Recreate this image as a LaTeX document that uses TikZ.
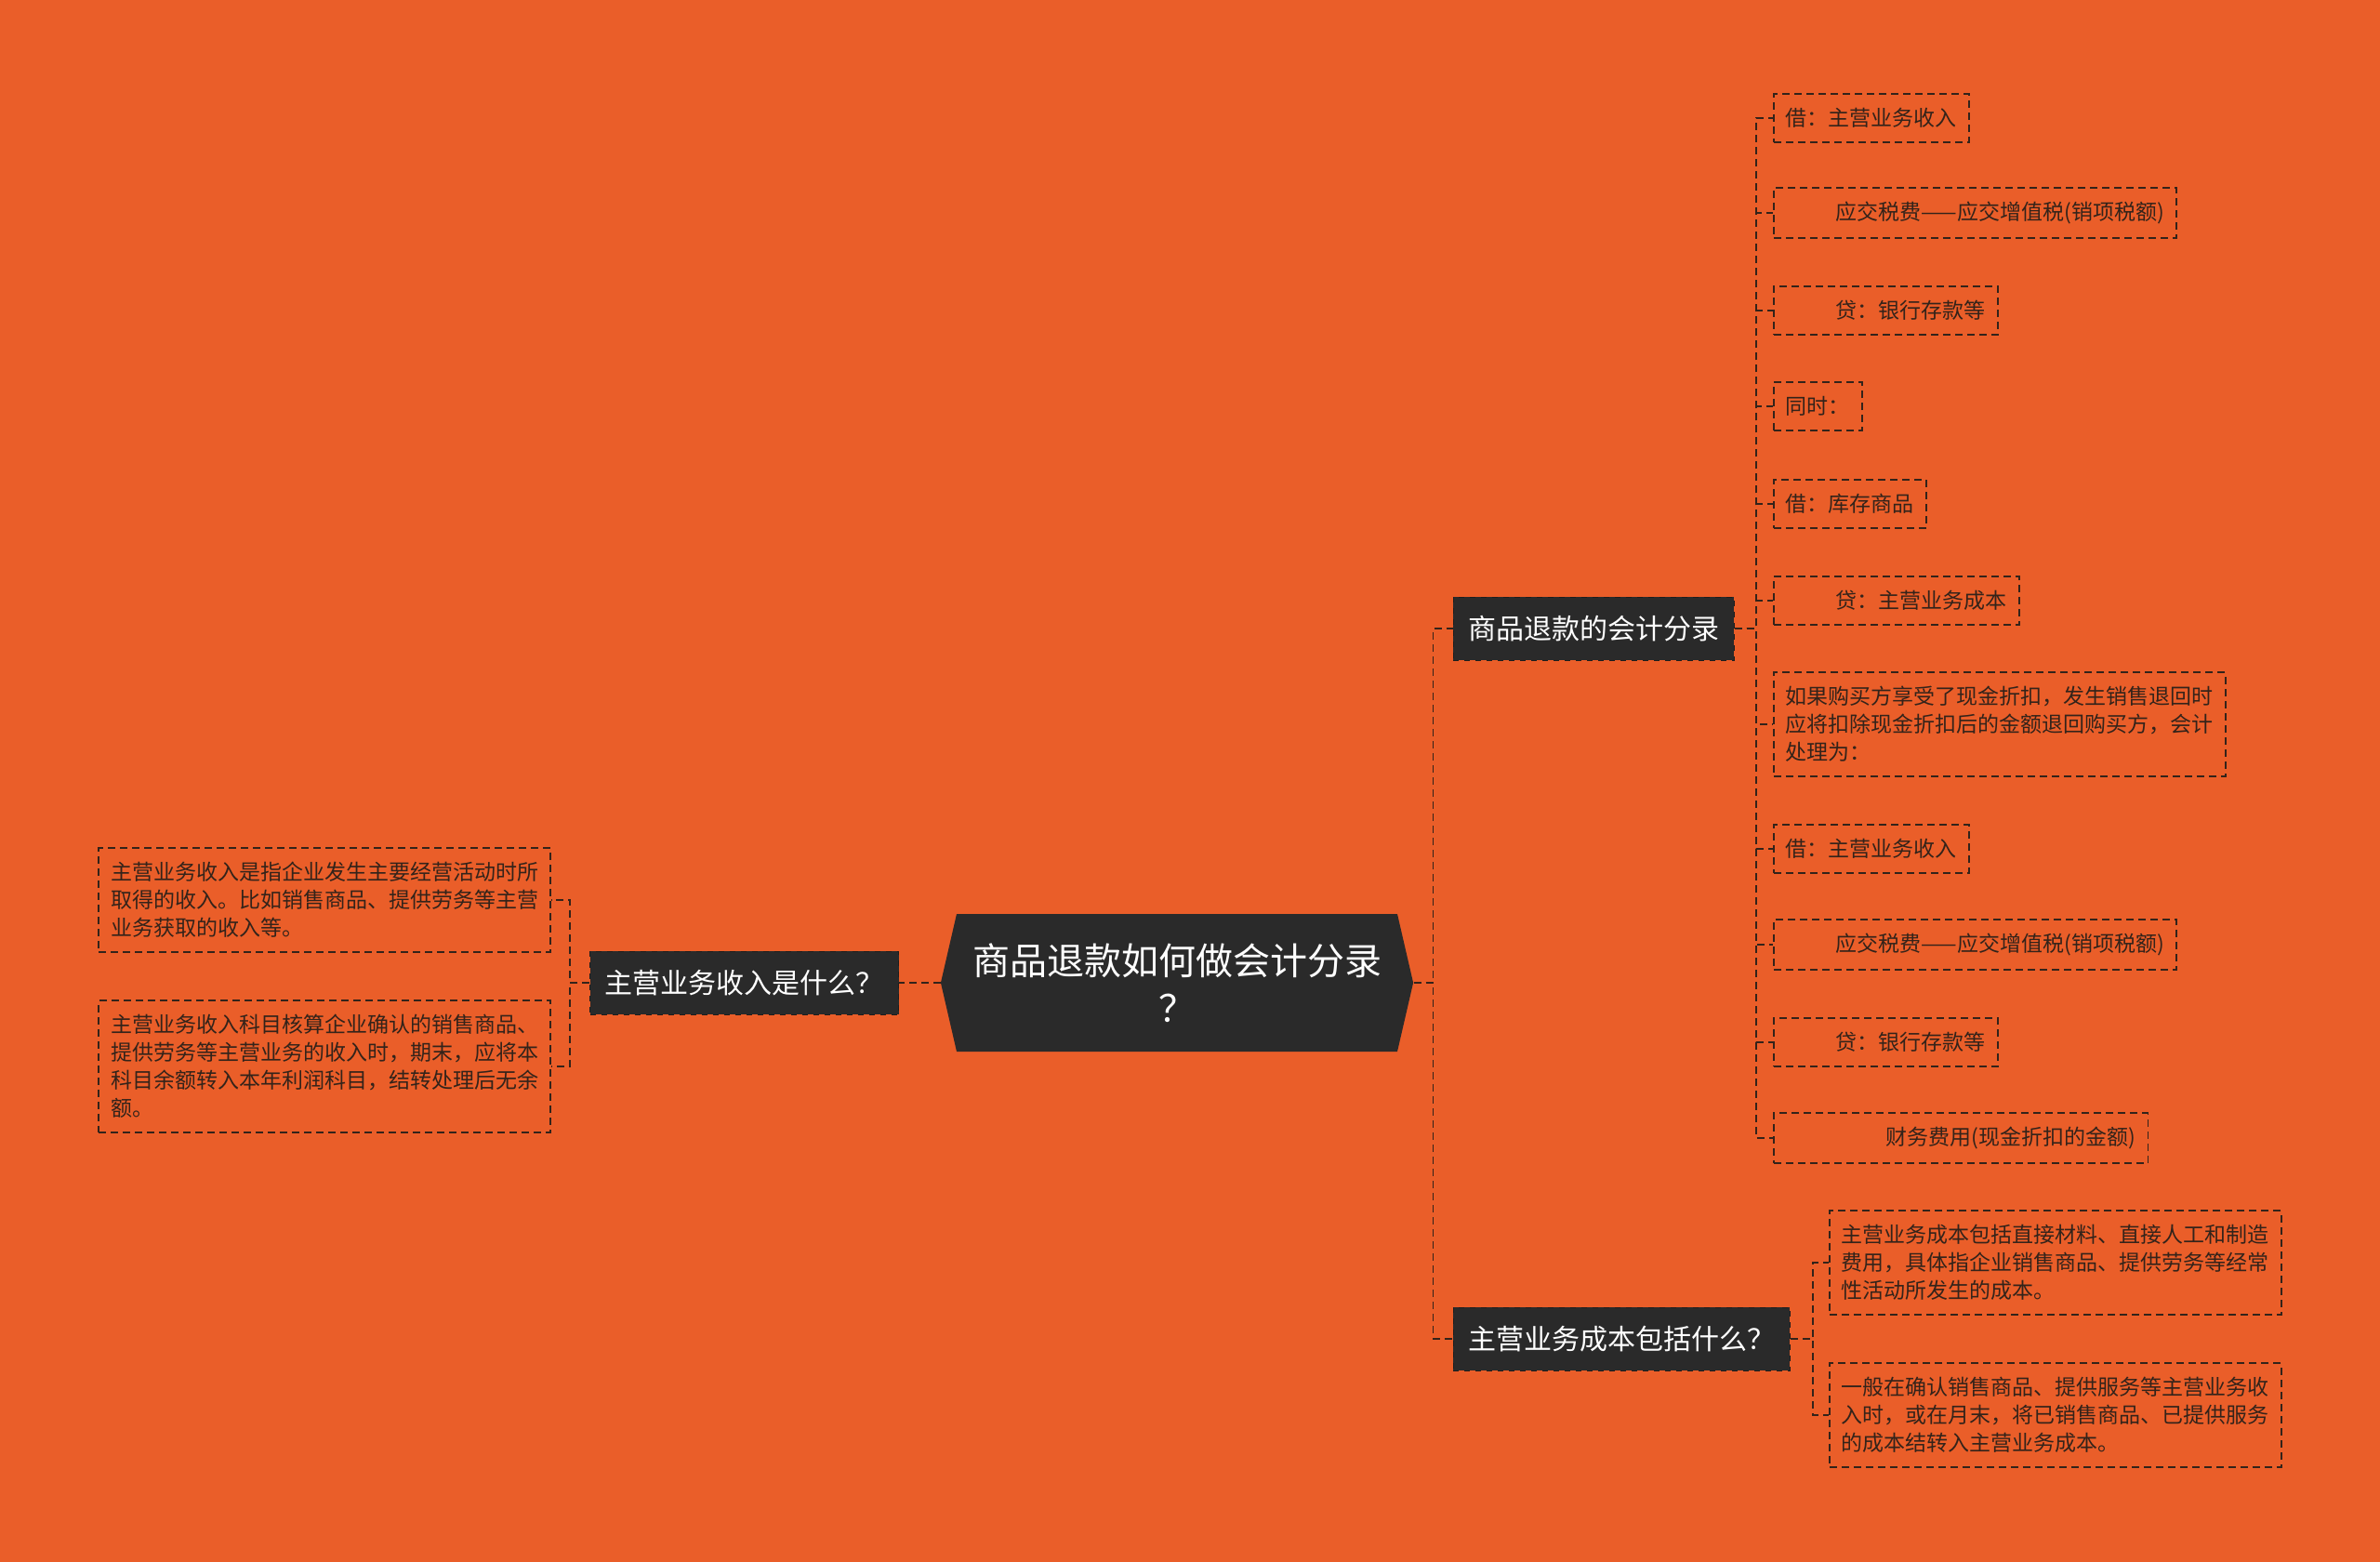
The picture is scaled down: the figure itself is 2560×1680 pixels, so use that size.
\documentclass[tikz,border=0pt]{standalone}
\usepackage{fontspec}
\setmainfont{Noto Sans CJK SC}
\usetikzlibrary{shapes.symbols}
\definecolor{bgorange}{HTML}{EA5E29}
\definecolor{boxdark}{HTML}{2A2A2A}
\definecolor{inkdark}{HTML}{33231A}
\tikzset{%
  % Specifications for style of nodes:
       topic/.style = {signal, signal to=east and west, signal pointer angle=154,
                       fill=boxdark, text=white, minimum height=74pt,
                       inner xsep=8.5pt, align=center,
                       font=\fontsize{20}{25.5}\selectfont},
      branch/.style = {rectangle, fill=boxdark, draw=boxdark!70!black, dashed,
                       text=white, minimum height=34pt, inner xsep=8pt,
                       font=\fontsize{15}{18}\selectfont},
        leaf/.style = {rectangle, draw=inkdark, dash pattern=on 4pt off 2.5pt,
                       line width=0.9pt, text=inkdark, minimum height=26pt,
                       inner xsep=6.5pt, inner ysep=7.5pt, align=left,
                       font=\fontsize{11.5}{15}\selectfont},
        link/.style = {draw=inkdark, dash pattern=on 4pt off 2.5pt, line width=0.9pt},
}

\begin{document}
\begin{tikzpicture}[x=0.5pt, y=-0.5pt]
\useasboundingbox (0,0) rectangle (2560,1680);
\fill[bgorange] (0,0) rectangle (2560,1680);

\node (root)    [topic] at (1266,1057) {商品退款如何做会计分录\\？};

\node (entries) [branch, anchor=west] at (1563,676)  {商品退款的会计分录};
\node (income)  [branch, anchor=east] at (967,1057)  {主营业务收入是什么？};
\node (cost)    [branch, anchor=west] at (1563,1440) {主营业务成本包括什么？};

% entries
\node (e1)  [leaf, anchor=west] at (1907,127)  {借：主营业务收入};
\node (e2)  [leaf, anchor=west] at (1907,229)  {\hspace*{27pt}应交税费——应交增值税(销项税额)};
\node (e3)  [leaf, anchor=west] at (1907,334)  {\hspace*{27pt}贷：银行存款等};
\node (e4)  [leaf, anchor=west] at (1907,437)  {同时：};
\node (e5)  [leaf, anchor=west] at (1907,542)  {借：库存商品};
\node (e6)  [leaf, anchor=west] at (1907,646)  {\hspace*{27pt}贷：主营业务成本};
\node (e7)  [leaf, anchor=west] at (1907,779)  {如果购买方享受了现金折扣，发生销售退回时\\应将扣除现金折扣后的金额退回购买方，会计\\处理为：};
\node (e8)  [leaf, anchor=west] at (1907,913)  {借：主营业务收入};
\node (e9)  [leaf, anchor=west] at (1907,1016) {\hspace*{27pt}应交税费——应交增值税(销项税额)};
\node (e10) [leaf, anchor=west] at (1907,1121) {\hspace*{27pt}贷：银行存款等};
\node (e11) [leaf, anchor=west] at (1907,1224) {\hspace*{54pt}财务费用(现金折扣的金额)};

% income
\node (i1)  [leaf, anchor=east] at (593,968)  {主营业务收入是指企业发生主要经营活动时所\\取得的收入。比如销售商品、提供劳务等主营\\业务获取的收入等。};
\node (i2)  [leaf, anchor=east] at (593,1147) {主营业务收入科目核算企业确认的销售商品、\\提供劳务等主营业务的收入时，期末，应将本\\科目余额转入本年利润科目，结转处理后无余\\额。};

% cost
\node (c1)  [leaf, anchor=west] at (1967,1358) {主营业务成本包括直接材料、直接人工和制造\\费用，具体指企业销售商品、提供劳务等经常\\性活动所发生的成本。};
\node (c2)  [leaf, anchor=west] at (1967,1522) {一般在确认销售商品、提供服务等主营业务收\\入时，或在月末，将已销售商品、已提供服务\\的成本结转入主营业务成本。};

\draw[link] (root.east) -- ++(21,0) |- (entries.west);
\draw[link] (root.east) -- ++(21,0) |- (cost.west);
\draw[link] (root.west) -- (income.east);

\draw[link] (entries.east) -- ++(23,0) |- (e1.west);
\draw[link] (entries.east) -- ++(23,0) |- (e2.west);
\draw[link] (entries.east) -- ++(23,0) |- (e3.west);
\draw[link] (entries.east) -- ++(23,0) |- (e4.west);
\draw[link] (entries.east) -- ++(23,0) |- (e5.west);
\draw[link] (entries.east) -- ++(23,0) |- (e6.west);
\draw[link] (entries.east) -- ++(23,0) |- (e7.west);
\draw[link] (entries.east) -- ++(23,0) |- (e8.west);
\draw[link] (entries.east) -- ++(23,0) |- (e9.west);
\draw[link] (entries.east) -- ++(23,0) |- (e10.west);
\draw[link] (entries.east) -- ++(23,0) |- (e11.west);

\draw[link] (income.west) -- ++(-21,0) |- (i1.east);
\draw[link] (income.west) -- ++(-21,0) |- (i2.east);

\draw[link] (cost.east) -- ++(24,0) |- (c1.west);
\draw[link] (cost.east) -- ++(24,0) |- (c2.west);
\end{tikzpicture}
\end{document}
